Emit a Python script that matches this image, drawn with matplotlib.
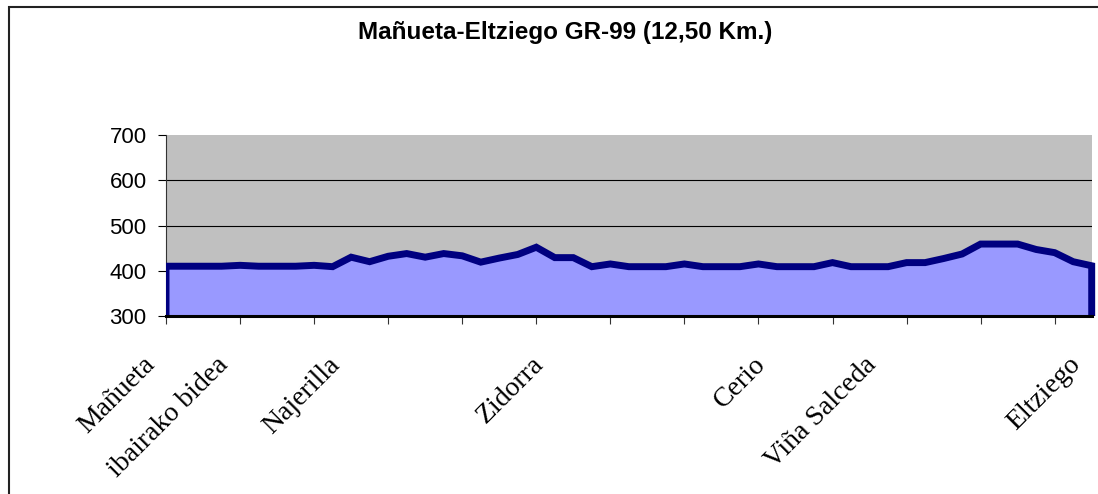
import matplotlib
matplotlib.use("Agg")
import matplotlib.pyplot as plt
from matplotlib.patches import Rectangle

# ---- data ----
elevation = [410, 410, 410, 410, 412, 410, 410, 410, 412, 409,
             430, 420, 432, 438, 430, 438, 433, 419, 428, 436,
             452, 429, 429, 409, 415, 409, 409, 409, 415, 409,
             409, 409, 415, 409, 409, 409, 418, 409, 409, 409,
             418, 418, 427, 437, 459, 459, 459, 447, 440, 420,
             411]
label_positions = [0, 4, 10, 21, 33, 39, 50]
label_names = ["Mañueta", "ibairako bidea", "Najerilla", "Zidorra",
               "Cerio", "Viña Salceda", "Eltziego"]
y_ticks = [300, 400, 500, 600, 700]
title = "Mañueta-Eltziego GR-99 (12,50 Km.)"

W, H = 1098, 494
fig = plt.figure(figsize=(W / 100, H / 100), dpi=100)
fig.patch.set_facecolor("white")

# outer chart border (left/top visible, right/bottom run off the image)
fig.patches.append(Rectangle((9 / W, -0.1), 1.2, 1.1 - 7 / H,
                             transform=fig.transFigure, fill=False,
                             edgecolor="#222222", linewidth=1.5))

left, right, top, bottom = 166, 1091.7, 135, 316
ax = fig.add_axes([left / W, 1 - bottom / H, (right - left) / W, (bottom - top) / H])
ax.set_facecolor("#C0C0C0")

n = len(elevation)
xs = list(range(n))
ax.fill_between(xs, elevation, 300, facecolor="#9999FF", edgecolor="none",
                linewidth=0, zorder=2)
outline_x = [0] + xs + [n - 1]
outline_y = [300] + elevation + [300]
lines = ax.plot(outline_x, outline_y, color="#000080", linewidth=5,
                solid_joinstyle="miter", zorder=3)
clip = Rectangle((0, 300), n - 1 + 0.25, 500, transform=ax.transData)
for ln in lines:
    ln.set_clip_path(clip)

ax.set_xlim(0, n - 1)
ax.set_ylim(300, 700)

# gridlines (not at the top edge)
for v in y_ticks[1:-1]:
    ax.axhline(v, color="black", linewidth=0.8, zorder=1)

ax.set_yticks(y_ticks)
ax.set_yticklabels([str(v) for v in y_ticks], fontfamily="Liberation Sans", fontsize=16)
ax.tick_params(axis="y", direction="out", length=6, width=0.8, color="black", pad=8)

ax.set_xticks(list(range(0, n, 4)))
ax.set_xticklabels([])
ax.tick_params(axis="x", which="major", direction="out", length=6, width=0.8, color="#333333")

# category labels (rotated, anchored at their text end)
for pos, name in zip(label_positions, label_names):
    ax.annotate(name, xy=(pos, 0), xycoords=("data", "axes fraction"),
                xytext=(-24, -36), textcoords="offset pixels",
                rotation=45, ha="right", va="top", rotation_mode="anchor",
                fontfamily="Liberation Serif", fontsize=20, annotation_clip=False)

for s in ["top", "right"]:
    ax.spines[s].set_visible(False)
ax.spines["left"].set_color("#333333")
ax.spines["left"].set_linewidth(0.8)
ax.spines["bottom"].set_color("black")
ax.spines["bottom"].set_linewidth(2.2)
ax.spines["bottom"].set_zorder(4)

fig.text(565 / W, 1 - 33 / H, title, ha="center", va="center",
         fontfamily="Liberation Sans", fontweight="bold", fontsize=17.5)

fig.savefig("out.png", dpi=100)
